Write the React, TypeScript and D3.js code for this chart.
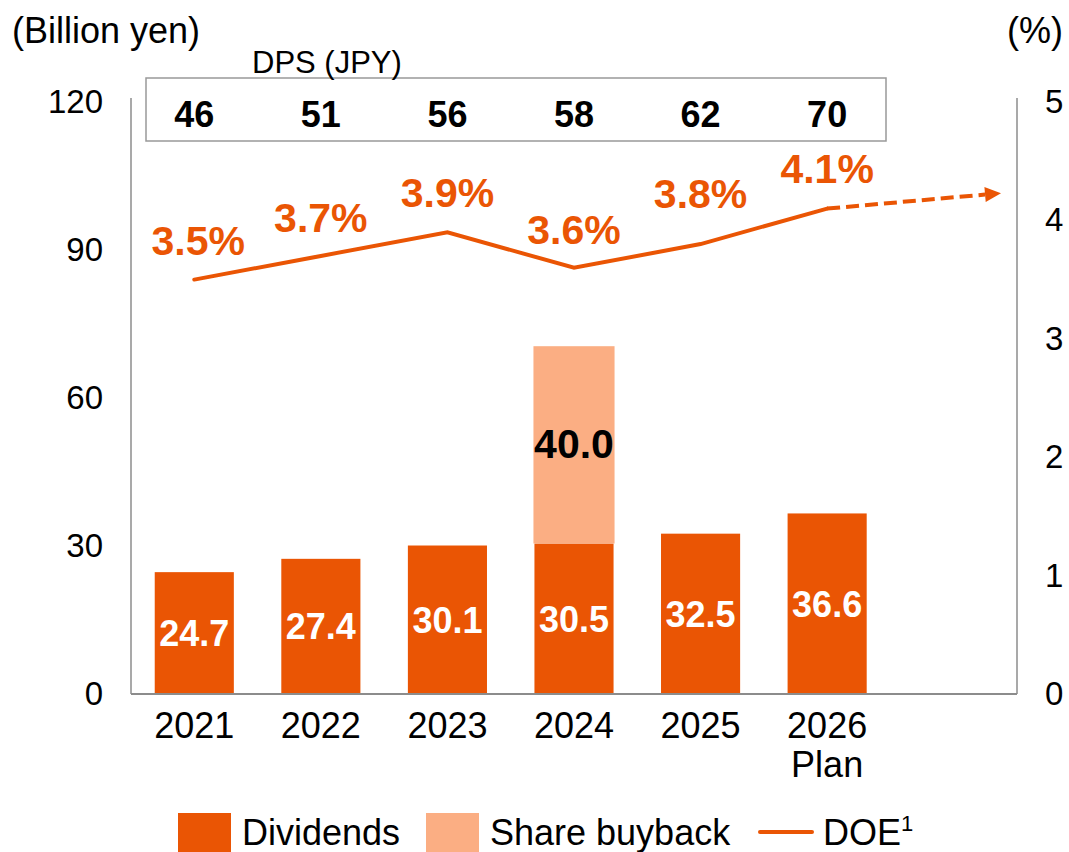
import React from "react";
import * as d3 from "d3";

const years = ["2021", "2022", "2023", "2024", "2025", "2026"];
const slots = ["2021", "2022", "2023", "2024", "2025", "2026", "next"];
const dividends = [24.7, 27.4, 30.1, 30.5, 32.5, 36.6];
const buyback = [0, 0, 0, 40.0, 0, 0];
const doe = [3.5, 3.7, 3.9, 3.6, 3.8, 4.1];
const doeArrowValue = 4.23;
const dps = [46, 51, 56, 58, 62, 70];
const leftTicks = [0, 30, 60, 90, 120];
const rightTicks = [0, 1, 2, 3, 4, 5];

const ORANGE = "#EA5504";
const LIGHT = "#FBAE83";
const AXIS = "#8c8c8c";
const FONT = "Liberation Sans, Arial, sans-serif";

export default function App() {
  const left = 131, right = 1017, top = 102, bottom = 694;
  const x = d3.scaleBand<string>().domain(slots).range([left, right]).paddingInner(0.375).paddingOuter(0.1875);
  const y = d3.scaleLinear().domain([0, 120]).range([bottom, top]);
  const y2 = d3.scaleLinear().domain([0, 5]).range([bottom, top]);
  const bw = x.bandwidth();
  const cx = (s: string) => (x(s) as number) + bw / 2;

  const pts: [number, number][] = years.map((yr, i) => [cx(yr), y2(doe[i])]);
  const line = d3.line<[number, number]>();
  const tip: [number, number] = [1001, y2(doeArrowValue)];
  const dashStart = pts[pts.length - 1];
  const dx = tip[0] - dashStart[0], dy = tip[1] - dashStart[1];
  const len = Math.sqrt(dx * dx + dy * dy);
  const ux = dx / len, uy = dy / len;
  const headLen = 16, headHalf = 7.5;
  const base: [number, number] = [tip[0] - ux * headLen, tip[1] - uy * headLen];
  const head = [
    tip,
    [base[0] - uy * headHalf, base[1] + ux * headHalf],
    [base[0] + uy * headHalf, base[1] - ux * headHalf],
  ] as [number, number][];

  const labelOffsets = [-25, -24, -25, -24, -36, -26];

  return (
    <svg width={1069} height={852} style={{ position: "absolute", left: 0, top: 0, background: "#fff" }} fontFamily={FONT}>
      {/* axis unit labels */}
      <text x={12} y={43} fontSize={36} fill="#000">(Billion yen)</text>
      <text x={1063} y={43} fontSize={36} fill="#000" textAnchor="end">(%)</text>

      {/* bars */}
      {years.map((yr, i) => (
        <g key={yr}>
          <rect x={x(yr)} y={y(dividends[i])} width={bw} height={y(0) - y(dividends[i])} fill={ORANGE} />
          {buyback[i] > 0 && (
            <rect x={(x(yr) as number) - 1} y={y(dividends[i] + buyback[i])} width={bw + 2} height={y(dividends[i]) - y(dividends[i] + buyback[i])} fill={LIGHT} />
          )}
          <text x={cx(yr)} y={(y(0) + y(dividends[i])) / 2 + 13} textAnchor="middle" fontSize={36} fontWeight="bold" fill="#fff">{dividends[i].toFixed(1)}</text>
          {buyback[i] > 0 && (
            <text x={cx(yr)} y={(y(dividends[i]) + y(dividends[i] + buyback[i])) / 2 + 13} textAnchor="middle" fontSize={41} fontWeight="bold" fill="#000">{buyback[i].toFixed(1)}</text>
          )}
        </g>
      ))}

      {/* axes */}
      <line x1={left} x2={left} y1={98} y2={bottom} stroke={AXIS} strokeWidth={1.5} />
      <line x1={right} x2={right} y1={98} y2={bottom} stroke={AXIS} strokeWidth={1.5} />
      <line x1={left} x2={right} y1={bottom} y2={bottom} stroke={AXIS} strokeWidth={2} />
      {leftTicks.map((t) => (
        <text key={t} x={103} y={y(t) + 11} textAnchor="end" fontSize={33} fill="#000">{t}</text>
      ))}
      {rightTicks.map((t) => (
        <text key={t} x={1045} y={y2(t) + 11} fontSize={33} fill="#000">{t}</text>
      ))}
      {years.map((yr) => (
        <text key={yr} x={cx(yr)} y={738} textAnchor="middle" fontSize={36} fill="#000">{yr}</text>
      ))}
      <text x={cx("2026")} y={777} textAnchor="middle" fontSize={36} fill="#000">Plan</text>

      {/* DPS box */}
      <rect x={146} y={78} width={740} height={63} fill="#fff" stroke="#999" strokeWidth={1.5} />
      <text x={252} y={73} fontSize={31} fill="#000">DPS (JPY)</text>
      {years.map((yr, i) => (
        <text key={yr} x={cx(yr)} y={127} textAnchor="middle" fontSize={36} fontWeight="bold" fill="#000">{dps[i]}</text>
      ))}

      {/* DOE line */}
      <path d={line(pts) as string} fill="none" stroke={ORANGE} strokeWidth={4} strokeLinecap="round" />
      <path d={line([dashStart, base]) as string} fill="none" stroke={ORANGE} strokeWidth={4} strokeDasharray="13,6" />
      <path d={line(head) + "Z"} fill={ORANGE} />
      {years.map((yr, i) => (
        <text key={yr} x={cx(yr) + (i === 0 ? 4 : 0)} y={y2(doe[i]) + labelOffsets[i]} textAnchor="middle" fontSize={41} fontWeight="bold" fill={ORANGE}>{doe[i].toFixed(1)}%</text>
      ))}

      {/* legend */}
      <rect x={178} y={813} width={53} height={40} fill={ORANGE} />
      <text x={242} y={845} fontSize={36} fill="#000">Dividends</text>
      <rect x={426} y={813} width={53} height={40} fill={LIGHT} />
      <text x={490} y={845} fontSize={36} fill="#000">Share buyback</text>
      <line x1={760} x2={812} y1={832} y2={832} stroke={ORANGE} strokeWidth={4} strokeLinecap="round" />
      <text x={823} y={845} fontSize={36} fill="#000">DOE<tspan fontSize={22} dy={-14}>1</tspan></text>
    </svg>
  );
}
